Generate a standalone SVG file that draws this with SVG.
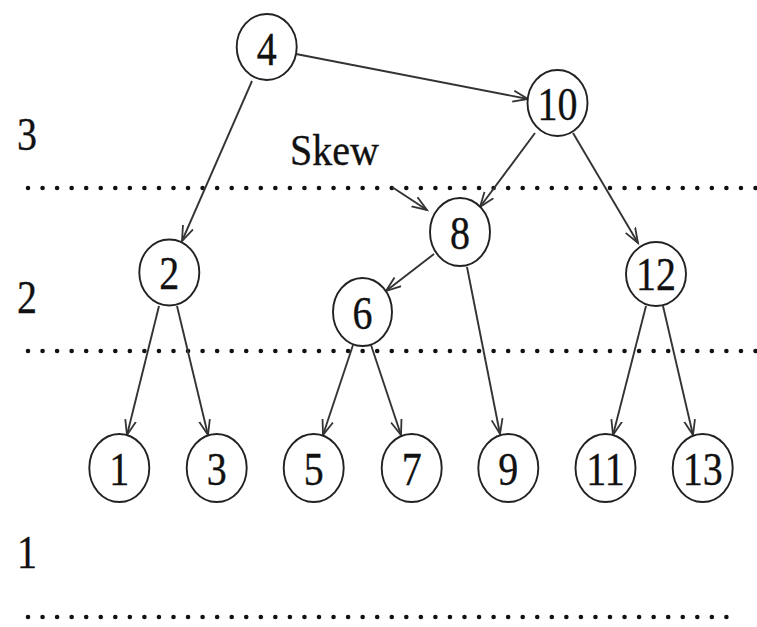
<svg xmlns="http://www.w3.org/2000/svg" width="757" height="627" viewBox="0 0 757 627">
  <style>
    .node ellipse { fill: #ffffff; stroke: #222; stroke-width: 1.9; }
    .t { font-family: "Times New Roman", "Liberation Serif", Times, "DejaVu Serif", serif; font-size: 40px; fill: #111; stroke: #111; stroke-width: 0.3; }
    .node text { text-anchor: middle; }
    .level { text-anchor: middle; }
    .edge { stroke: #333; stroke-width: 1.9; fill: none; marker-end: url(#arrow); }
    .dots { stroke: #111; stroke-width: 4.6; stroke-linecap: round; stroke-dasharray: 0 14.55; fill: none; }
  </style>
  <defs>
    <marker id="arrow" markerUnits="userSpaceOnUse" markerWidth="18" markerHeight="14" refX="15" refY="6.5" orient="auto">
      <path d="M0,1 L15,6.5 L0,12" fill="none" stroke="#333" stroke-width="1.8"/>
    </marker>
  </defs>
  <rect width="757" height="627" fill="#ffffff"/>

  <!-- level separators and labels -->
  <g id="levels">
    <path class="dots" d="M28,188 H760"/>
    <path class="dots" d="M28,351 H760"/>
    <path class="dots" d="M28,617 H734"/>
    <text class="t level" transform="translate(27,150) scale(1,1.18)">3</text>
    <text class="t level" transform="translate(27,313) scale(1,1.18)">2</text>
    <text class="t level" transform="translate(27,568) scale(1,1.18)">1</text>
    <text class="t" transform="translate(290,165) scale(1,1.1)">Skew</text>
  </g>

  <!-- connectors -->
  <g id="edges">
    <line class="edge" x1="296" y1="54" x2="528" y2="99"/>
    <line class="edge" x1="252" y1="81" x2="182" y2="241"/>
    <line class="edge" x1="535" y1="133" x2="480" y2="207"/>
    <line class="edge" x1="573" y1="133" x2="638" y2="243"/>
    <line class="edge" x1="434" y1="254" x2="386" y2="291"/>
    <line class="edge" x1="467" y1="267" x2="500" y2="434"/>
    <line class="edge" x1="159" y1="306" x2="127" y2="435"/>
    <line class="edge" x1="177" y1="306" x2="208" y2="435"/>
    <line class="edge" x1="353" y1="345" x2="323" y2="435"/>
    <line class="edge" x1="371" y1="345" x2="401" y2="435"/>
    <line class="edge" x1="646" y1="306" x2="613" y2="435"/>
    <line class="edge" x1="663" y1="306" x2="693" y2="435"/>
    <line class="edge" x1="392" y1="187" x2="427" y2="210"/>
  </g>

  <!-- tree nodes -->
  <g id="n4" class="node"><ellipse cx="266.7" cy="47" rx="30" ry="33"/><text class="t" transform="translate(266.7,65) scale(1,1.18)">4</text></g>
  <g id="n10" class="node"><ellipse cx="557.5" cy="103" rx="30" ry="33"/><text class="t" transform="translate(557.5,120) scale(1,1.18)">10</text></g>
  <g id="n2" class="node"><ellipse cx="169.3" cy="272.5" rx="30" ry="33"/><text class="t" transform="translate(169.3,289) scale(1,1.18)">2</text></g>
  <g id="n8" class="node"><ellipse cx="460" cy="232" rx="30" ry="34"/><text class="t" transform="translate(460,249) scale(1,1.18)">8</text></g>
  <g id="n12" class="node"><ellipse cx="656" cy="274" rx="30" ry="32"/><text class="t" transform="translate(656,290) scale(1,1.18)">12</text></g>
  <g id="n6" class="node"><ellipse cx="362.5" cy="312" rx="29.5" ry="34"/><text class="t" transform="translate(362.5,329) scale(1,1.18)">6</text></g>
  <g id="n1" class="node"><ellipse cx="119.3" cy="468" rx="30" ry="34"/><text class="t" transform="translate(119.3,485) scale(1,1.18)">1</text></g>
  <g id="n3" class="node"><ellipse cx="216.7" cy="468" rx="30" ry="34"/><text class="t" transform="translate(216.7,485) scale(1,1.18)">3</text></g>
  <g id="n5" class="node"><ellipse cx="313.7" cy="468" rx="30" ry="34"/><text class="t" transform="translate(313.7,485) scale(1,1.18)">5</text></g>
  <g id="n7" class="node"><ellipse cx="411.7" cy="468" rx="30" ry="34"/><text class="t" transform="translate(411.7,485) scale(1,1.18)">7</text></g>
  <g id="n9" class="node"><ellipse cx="508.3" cy="468" rx="30" ry="34"/><text class="t" transform="translate(508.3,485) scale(1,1.18)">9</text></g>
  <g id="n11" class="node"><ellipse cx="605.5" cy="468" rx="30" ry="34"/><text class="t" transform="translate(605.5,485) scale(1,1.18)">11</text></g>
  <g id="n13" class="node"><ellipse cx="702.7" cy="468" rx="30" ry="34"/><text class="t" transform="translate(702.7,485) scale(1,1.18)">13</text></g>
</svg>
